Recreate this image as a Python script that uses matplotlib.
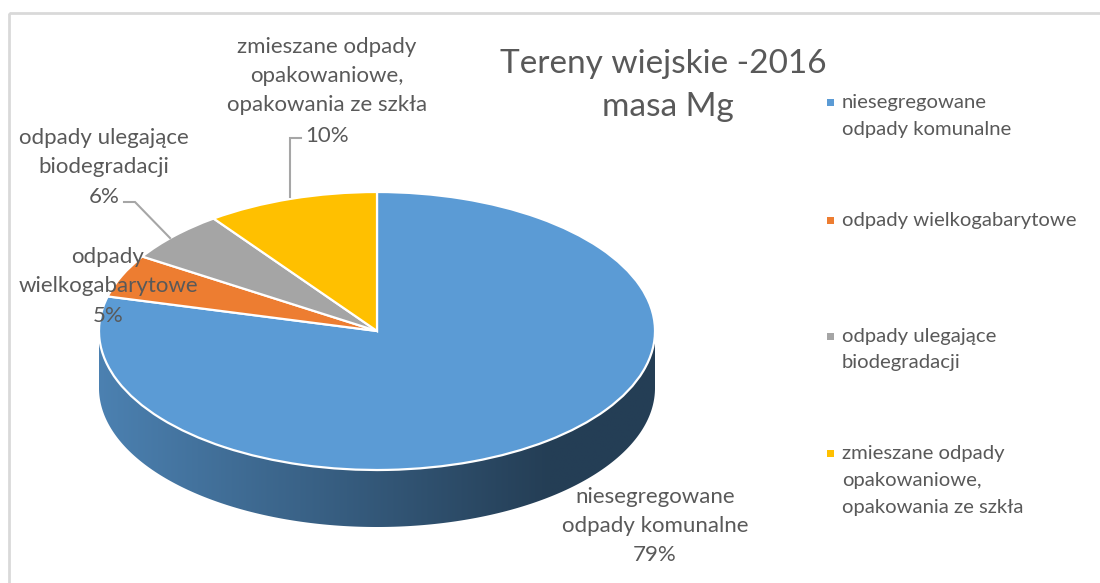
import numpy as np
import matplotlib
matplotlib.use('Agg')
import matplotlib.pyplot as plt
from matplotlib.patches import Polygon, Rectangle
from matplotlib.colors import to_rgb

# ---------------- data ----------------
categories = ["niesegregowane odpady komunalne",
              "odpady wielkogabarytowe",
              "odpady ulegające biodegradacji",
              "zmieszane odpady opakowaniowe, opakowania ze szkła"]
values = [79, 5, 6, 10]
legend_lines = [["niesegregowane", "odpady komunalne"],
                ["odpady wielkogabarytowe"],
                ["odpady ulegające", "biodegradacji"],
                ["zmieszane odpady", "opakowaniowe,", "opakowania ze szkła"]]
label_lines = [["niesegregowane", "odpady komunalne"],
               ["odpady", "wielkogabarytowe"],
               ["odpady ulegające", "biodegradacji"],
               ["zmieszane odpady", "opakowaniowe,", "opakowania ze szkła"]]
colors = ['#5B9BD5', '#ED7D31', '#A5A5A5', '#FFC000']
title_lines = ["Tereny wiejskie -2016", "masa Mg"]

# ---------------- layout ----------------
W, H = 1100, 583
TXT = '#595959'
FONT = 'Lato'
plt.rcParams['font.family'] = [FONT, 'DejaVu Sans']

fig = plt.figure(figsize=(W / 100, H / 100), dpi=100)
fig.patch.set_facecolor('white')

ov = fig.add_axes([0, 0, 1, 1], zorder=5)
ov.set_xlim(0, W)
ov.set_ylim(H, 0)
ov.axis('off')
ov.patch.set_alpha(0)

# chart border
ov.add_patch(Rectangle((9, 13), W + 20, H + 20, fill=False,
                       edgecolor='#d9d9d9', lw=2))

# pie geometry (pixels)
cx, cy, rx, ry, depth = 377, 331, 278, 139, 57
d = depth / ry
mx = 1.03
ytop, ybot = 1.05, 1 + d + 0.05
left_px = cx - mx * rx
top_px = cy - ytop * ry
bot_px = cy + ybot * ry
ax = fig.add_axes([left_px / W, (H - bot_px) / H,
                   2 * mx * rx / W, (bot_px - top_px) / H], zorder=2)

wedges, _ = ax.pie(values, colors=colors, startangle=90, counterclock=False,
                   radius=1, wedgeprops=dict(edgecolor='white', linewidth=1.6))
for w in wedges:
    w.set_zorder(3)

# side walls of the 3D pie (front half, 180..360 deg)
for w, col in zip(wedges, colors):
    t1, t2 = w.theta1, w.theta2
    for sh in (-360, 0, 360):
        a, b = max(t1 + sh, 180), min(t2 + sh, 360)
        if b <= a:
            continue
        th = np.radians(np.linspace(a, b, 300))
        xs = np.cos(th)
        ys = np.sin(th)
        verts = np.vstack([np.column_stack([xs, ys]),
                           np.column_stack([xs[::-1], ys[::-1] - d])])
        poly = Polygon(verts, closed=True, facecolor='none', edgecolor='none')
        ax.add_patch(poly)
        base = np.array(to_rgb(col))
        gx = np.linspace(-1, 1, 400)
        f = np.interp(gx, [-1, 0.62, 1], [0.83, 0.40, 0.40])
        img = (base[None, :] * f[:, None])[None, :, :]
        im = ax.imshow(img, extent=(-1, 1, -1 - d, 0), aspect='auto',
                       zorder=1, interpolation='bilinear')
        im.set_clip_path(poly)

ax.set_aspect('auto')
ax.set_xlim(-mx, mx)
ax.set_ylim(-ybot, ytop)
ax.axis('off')

# ---------------- title ----------------
ov.text(663, 73, title_lines[0], ha='center', va='baseline',
        fontsize=24, color=TXT)
ov.text(668, 116, title_lines[1], ha='center', va='baseline',
        fontsize=24, color=TXT)

# ---------------- data labels ----------------
total = sum(values)
pcts = [f"{round(v / total * 100)}%" for v in values]
label_pos = [(655, [503, 532, 561]),
             (108, [263, 292, 322]),
             (104, [144, 173, 203]),
             (327, [53, 82, 111, 142])]
LS = 16
for lines, pct, (x, ys) in zip(label_lines, pcts, label_pos):
    for t, y in zip(lines + [pct], ys):
        ov.text(x, y, t, ha='center', va='baseline', fontsize=LS, color=TXT,
                zorder=6)

# leader lines
ov.plot([290, 290, 301], [197, 138, 138], color='#a6a6a6', lw=1.5,
        solid_joinstyle='miter')
ov.plot([170, 135, 124], [238, 202, 202], color='#a6a6a6', lw=1.5,
        solid_joinstyle='miter')

# ---------------- legend ----------------
leg_base = [[108, 135], [226], [342, 368], [459, 486, 513]]
for lines, col, ys in zip(legend_lines, colors, leg_base):
    ov.add_patch(Rectangle((827, ys[0] - 9), 7, 7, facecolor=col,
                           edgecolor='none'))
    for t, y in zip(lines, ys):
        ov.text(842, y, t, ha='left', va='baseline', fontsize=14.6, color=TXT)

fig.savefig('out.png', dpi=100, facecolor='white')
